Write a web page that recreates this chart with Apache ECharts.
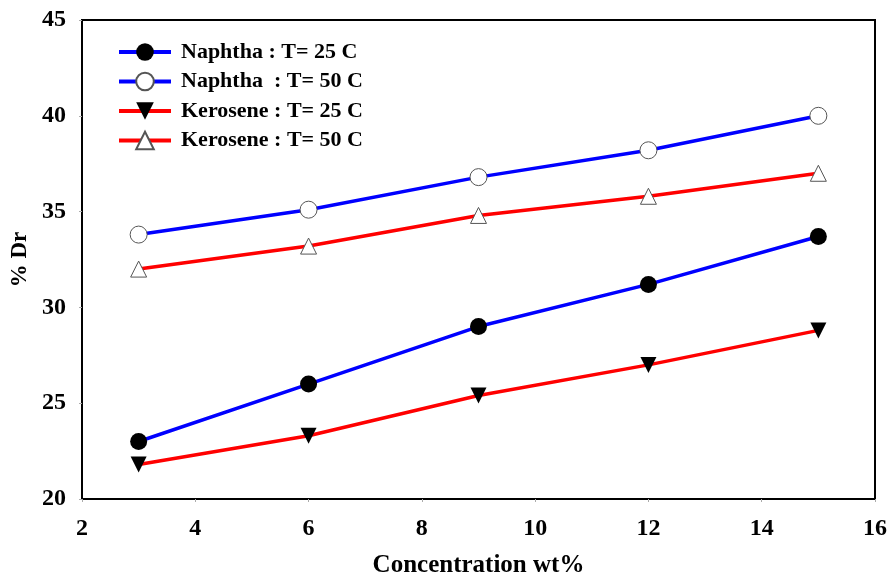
<!DOCTYPE html>
<html><head><meta charset="utf-8">
<script src="https://cdn.jsdelivr.net/npm/echarts@6/dist/echarts.min.js"></script>
<style>html,body{margin:0;padding:0;background:#fff}#c{width:890px;height:578px}</style>
</head><body><div id="c"></div>
<script>
const concentration = [3, 6, 9, 12, 15];
const naphtha25 = [23.0, 26.0, 29.0, 31.2, 33.7];
const naphtha50 = [33.8, 35.1, 36.8, 38.2, 40.0];
const kerosene25 = [21.8, 23.3, 25.4, 27.0, 28.8];
const kerosene50 = [32.0, 33.2, 34.8, 35.8, 37.0];
const seriesNames = ['Naphtha : T= 25 C', 'Naphtha  : T= 50 C', 'Kerosene : T= 25 C', 'Kerosene : T= 50 C'];

const font = '"Liberation Serif", "Times New Roman", serif';
const pair = v => concentration.map((x, i) => [x, v[i]]);
function mk(name, data, color, symbol, fill, border, rotate, size) {
  return {
    name, type: 'line', data: pair(data), symbol, symbolSize: size, symbolRotate: rotate,
    lineStyle: { color, width: 3.5 },
    itemStyle: { color: fill, borderColor: border, borderWidth: border === fill ? 0 : 1 },
    emphasis: { disabled: true }, z: 3
  };
}
const chart = echarts.init(document.getElementById('c'), null, { renderer: 'canvas' });
chart.setOption({
  animation: false,
  backgroundColor: '#fff',
  grid: { left: 82, right: 15, top: 20, bottom: 79, show: true, borderColor: '#000', borderWidth: 2,
          containLabel: false, outerBoundsMode: 'none' },
  legend: {
    orient: 'vertical', left: 112, top: 36, itemWidth: 52, itemHeight: 22, itemGap: 7.5,
    lineStyle: { width: 4 },
    textStyle: { fontFamily: font, fontWeight: 'bold', fontSize: 22, color: '#000', padding: [0, 0, 0, 5] },
    data: seriesNames
  },
  xAxis: {
    type: 'value', min: 2, max: 16, interval: 2,
    name: 'Concentration wt%', nameLocation: 'middle', nameGap: 54,
    nameTextStyle: { fontFamily: font, fontWeight: 'bold', fontSize: 25, color: '#000' },
    axisLine: { show: true, lineStyle: { color: '#000', width: 2 } },
    axisTick: { show: true, length: 3, lineStyle: { color: '#aaa' } },
    axisLabel: { fontFamily: font, fontWeight: 'bold', fontSize: 24, color: '#000', margin: 18 },
    splitLine: { show: false }
  },
  yAxis: {
    type: 'value', min: 20, max: 45, interval: 5,
    name: '% Dr', nameLocation: 'middle', nameGap: 49, nameRotate: 90,
    nameTextStyle: { fontFamily: font, fontWeight: 'bold', fontSize: 23, color: '#000' },
    axisLine: { show: true, lineStyle: { color: '#000', width: 2 } },
    axisTick: { show: true, length: 3, lineStyle: { color: '#aaa' } },
    axisLabel: { fontFamily: font, fontWeight: 'bold', fontSize: 24, color: '#000', margin: 16 },
    splitLine: { show: false }
  },
  series: [
    mk(seriesNames[0], naphtha25, '#0000ff', 'circle', '#000', '#000', 0, 17),
    mk(seriesNames[1], naphtha50, '#0000ff', 'circle', '#fff', '#555', 0, 17),
    mk(seriesNames[2], kerosene25, '#ff0000', 'triangle', '#000', '#000', 180, 16),
    mk(seriesNames[3], kerosene50, '#ff0000', 'triangle', '#fff', '#555', 0, 16)
  ]
});
</script></body></html>
